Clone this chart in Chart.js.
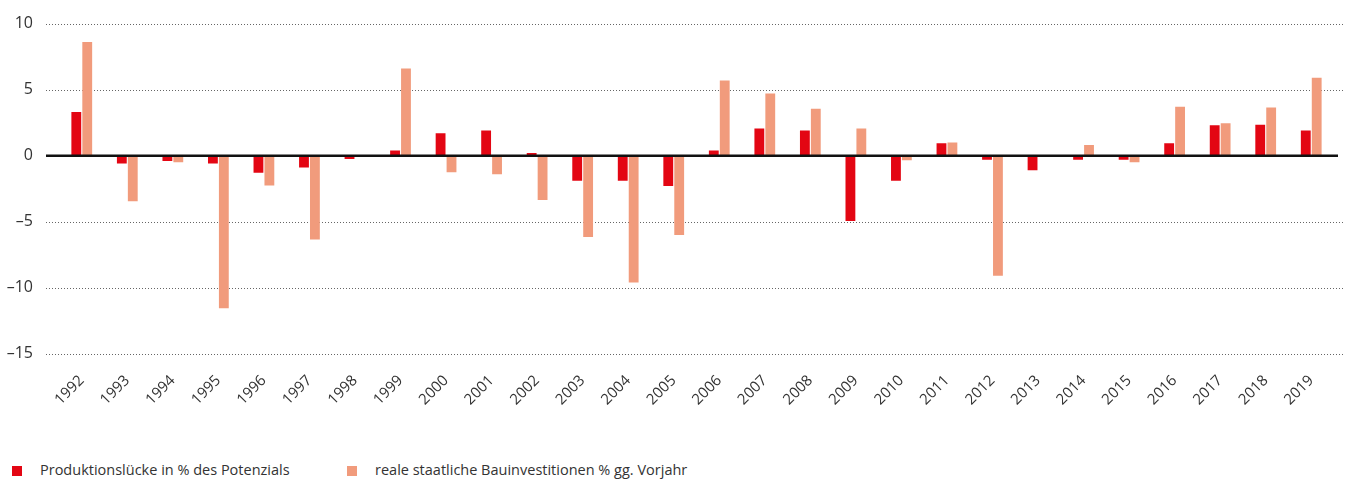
<!DOCTYPE html>
<html>
<head>
<meta charset="utf-8">
<script src="https://cdn.jsdelivr.net/npm/chart.js@4/dist/chart.umd.min.js"></script>
<style>
  html, body { margin: 0; padding: 0; background: #fff; overflow: hidden; }
  #wrap { position: relative; width: 1345px; height: 482px; overflow: hidden; }
  #box { position: absolute; left: 0; top: -12.5px; width: 1345px; height: 452.5px; }
  #legend { position: absolute; left: 0; top: 460px; font-family: "Open Sans", sans-serif; font-size: 14.5px; color: #333; }
  #legend span.item { position: absolute; white-space: nowrap; top: 0; }
  #legend i { position: absolute; width: 10px; height: 10px; top: 6px; }
</style>
</head>
<body>
<div id="wrap">
  <div id="box"><canvas id="chart"></canvas></div>
  <div id="legend"></div>
</div>
<script>
// Jahre (x-Achse)
const years = ['1992','1993','1994','1995','1996','1997','1998','1999','2000','2001','2002','2003','2004','2005',
  '2006','2007','2008','2009','2010','2011','2012','2013','2014','2015','2016','2017','2018','2019'];

// Produktionslücke in % des Potenzials
const produktionsluecke = [3.3, -0.6, -0.4, -0.6, -1.3, -0.9, -0.25, 0.4, 1.7, 1.9, 0.2, -1.9, -1.9, -2.3,
  0.4, 2.05, 1.9, -4.95, -1.9, 0.95, -0.3, -1.1, -0.3, -0.3, 0.95, 2.3, 2.35, 1.9];

// reale staatliche Bauinvestitionen % gg. Vorjahr
const bauinvestitionen = [8.6, -3.45, -0.5, -11.55, -2.25, -6.35, null, 6.6, -1.25, -1.4, -3.35, -6.15, -9.6, -6.0,
  5.7, 4.7, 3.55, 2.05, -0.35, 1.0, -9.1, null, 0.8, -0.5, 3.7, 2.45, 3.65, 5.9];

// y-Achse
const yTicks = [10, 5, 0, -5, -10, -15];

const seriesLabels = ['Produktionslücke in % des Potenzials', 'reale staatliche Bauinvestitionen % gg. Vorjahr'];
const seriesColors = ['#e30613', '#f19b7c'];

// gepunktete Gitterlinien über die ganze Breite + Nulllinie
const gridPlugin = {
  id: 'gridPlugin',
  beforeDatasetsDraw(chart) {
    const { ctx, scales: { y } } = chart;
    ctx.save();
    ctx.strokeStyle = '#666';
    ctx.lineWidth = 1;
    ctx.setLineDash([1, 2]);
    yTicks.forEach(v => {
      if (v === 0) return;
      const py = Math.round(y.getPixelForValue(v)) + 0.5;
      ctx.beginPath();
      ctx.moveTo(46, py);
      ctx.lineTo(chart.width, py);
      ctx.stroke();
    });
    ctx.restore();
  },
  afterDatasetsDraw(chart) {
    const { ctx, scales: { y } } = chart;
    const py = y.getPixelForValue(0);
    ctx.save();
    ctx.strokeStyle = '#111';
    ctx.lineWidth = 2.5;
    ctx.beginPath();
    ctx.moveTo(46, py);
    ctx.lineTo(1338, py);
    ctx.stroke();
    ctx.restore();
  }
};

new Chart(document.getElementById('chart'), {
  type: 'bar',
  data: {
    labels: years,
    datasets: [
      { label: seriesLabels[0], data: produktionsluecke, backgroundColor: seriesColors[0],
        categoryPercentage: 0.48, barPercentage: 0.9 },
      { label: seriesLabels[1], data: bauinvestitionen, backgroundColor: seriesColors[1],
        categoryPercentage: 0.48, barPercentage: 0.9 }
    ]
  },
  options: {
    responsive: true,
    maintainAspectRatio: false,
    animation: false,
    layout: { padding: { top: 9.5, right: 11, left: 0, bottom: 0 } },
    plugins: { legend: { display: false }, tooltip: { enabled: false } },
    scales: {
      x: {
        grid: { display: false, drawTicks: false },
        border: { display: false },
        ticks: {
          color: '#333',
          font: { family: 'Open Sans', size: 15 },
          minRotation: 45, maxRotation: 45,
          padding: 18,
          labelOffset: 0,
          autoSkip: false
        },
        afterFit(scale) { scale.height = 86.7; }
      },
      y: {
        min: -15, max: 10,
        grid: { display: false, drawTicks: false },
        border: { display: false },
        afterBuildTicks(scale) { scale.ticks = yTicks.map(v => ({ value: v })); },
        ticks: {
          color: '#333',
          font: { family: 'Open Sans', size: 16 },
          padding: 26,
          callback: v => String(v).replace('-', '\u2013')
        },
        afterFit(scale) { scale.width = 59; }
      }
    }
  },
  plugins: [gridPlugin]
});

// Legende
const legend = document.getElementById('legend');
const legendX = [[12, 40], [347, 375]];
seriesLabels.forEach((txt, i) => {
  const sq = document.createElement('i');
  sq.style.left = legendX[i][0] + 'px';
  sq.style.background = seriesColors[i];
  legend.appendChild(sq);
  const s = document.createElement('span');
  s.className = 'item';
  s.style.left = legendX[i][1] + 'px';
  s.textContent = txt;
  legend.appendChild(s);
});
</script>
</body>
</html>
